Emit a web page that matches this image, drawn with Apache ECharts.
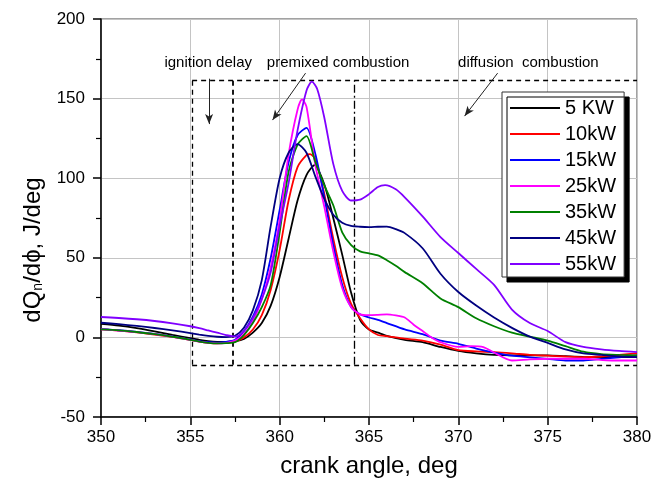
<!DOCTYPE html>
<html><head><meta charset="utf-8">
<script src="https://cdn.jsdelivr.net/npm/echarts@6/dist/echarts.min.js"></script>
<style>html,body{margin:0;padding:0;background:#fff}#c{width:656px;height:493px}</style>
</head><body><div id="c"></div>
<script>
const seriesNames = ['5 KW','10kW','15kW','25kW','35kW','45kW','55kW'];
const seriesColors = ['#000000','#ff0000','#0000ff','#ff00ff','#008000','#000080','#8000ff'];

const s5kW = [[350,8.5],[351,7.4],[352,5.8],[353,3.8],[354,1.6],[355,-0.5],[355.5,-1.5],[356,-2.3],[356.5,-2.8],[357,-2.9],[357.5,-2.4],[358,-1],[358.5,3],[359,9],[359.5,20],[360,38],[360.5,62],[361,86],[361.5,102],[361.95,108.2],[362.5,96],[363,75],[363.5,52],[364,28],[364.5,11],[365,5],[365.5,3],[366,1],[367,-1.5],[368,-3],[369,-6],[370,-8.5],[371,-10],[372,-11],[373,-11.3],[374,-11.3],[375,-11.3],[376,-11.8],[377,-12.2],[378,-12.4],[379,-12.4],[380,-12.4]];
const s10kW = [[350,5],[351,4.3],[352,3.2],[353,1.8],[354,0.3],[355,-1.6],[355.5,-2.6],[356,-3.4],[356.5,-3.8],[357,-3.5],[357.5,-2.6],[358,0],[358.5,5],[359,14],[359.5,30],[360,55],[360.5,86],[361,107],[361.5,114.5],[361.7,115.1],[362,112],[362.5,90],[363,62],[363.5,38],[364,21],[364.5,12],[365,5],[365.5,1.5],[366,0.8],[367,-0.8],[368,-2],[369,-4.5],[370,-8],[371,-8.8],[372,-9.2],[373,-10],[374,-11],[375,-11.5],[376,-12],[377,-12.4],[378,-12],[379,-11],[380,-10]];
const s15kW = [[350,5.2],[351,4.5],[352,3.5],[353,2.2],[354,0.6],[355,-1.3],[355.5,-2.3],[356,-3],[356.5,-3.3],[357,-2.8],[357.5,-1.5],[358,4],[358.5,13],[359,27],[359.5,50],[360,80],[360.5,110],[361,127],[361.5,131.6],[362,115],[362.5,88],[363,58],[363.5,33],[364,19],[364.5,14.5],[365,12.5],[365.5,11],[366,9],[367,5],[368,2],[369,-2],[370,-4],[371,-7],[372,-9.5],[373,-11.5],[374,-12.5],[375,-13.5],[376,-14.5],[377,-14.5],[378,-13.5],[379,-12.5],[380,-11.3]];
const s25kW = [[350,5],[351,4.3],[352,3.3],[353,2],[354,0.4],[355,-1.6],[355.5,-2.7],[356,-3.5],[356.5,-3.8],[357,-3.4],[357.5,-2],[358,2],[358.5,10],[359,24],[359.5,44],[360,74],[360.5,115],[361,143],[361.25,149.5],[361.5,145],[362,108],[362.5,82],[363,54],[363.5,31],[364,19],[364.5,14.5],[365,14],[365.5,14.2],[366,14.5],[366.5,13.8],[367,12.5],[367.5,8],[368,4],[368.5,0],[369,-3],[370,-6],[370.7,-5.5],[371.4,-6.1],[372,-9.5],[373,-14.5],[374,-13.8],[375,-13.4],[377,-13.4],[378.6,-14.5],[380,-14.5]];
const s35kW = [[350,5],[351,4.4],[352,3.4],[353,2],[354,0.4],[355,-1.5],[355.5,-2.6],[356,-3.4],[356.5,-3.8],[357,-3.6],[357.5,-3],[358,1.5],[358.5,9],[359,19],[359.5,33],[360,66],[360.5,104],[361,121],[361.5,126.4],[362,110],[362.5,95.5],[363,83],[363.5,66],[364,58],[364.5,54],[365,52.8],[365.5,51.5],[366,48.5],[366.5,45],[367,41],[368,34],[369,24.5],[370,19],[371,12],[372,7],[373,3],[374,0.5],[375,-2],[376,-5.5],[377,-9],[378,-10.5],[379,-11],[380,-11.3]];
const s45kW = [[350,9.2],[351,8.3],[352,7.2],[353,5.9],[354,4.4],[355,2.7],[355.5,1.8],[356,1],[356.5,0.4],[357,0.2],[357.5,1],[358,6],[358.5,17],[359,36],[359.5,70],[360,100],[360.5,116],[361,121.4],[361.5,116],[362,101],[362.5,87],[363,77],[363.5,72],[364,70],[364.5,69.5],[365,69.3],[365.5,69.5],[366,69.6],[366.5,68],[367,65.5],[368,56],[369,40],[370,28.5],[371,20],[372,12.5],[373,6],[374,0.5],[375,-3.5],[376,-7.5],[377,-10],[378,-11],[379,-12],[380,-12.4]];
const s55kW = [[350,12.8],[351,12.2],[352,11.4],[353,10.3],[354,8.8],[355,7],[355.5,5.8],[356,4.4],[356.5,3],[357,1.5],[357.5,0.5],[358,4],[358.5,12],[359,24],[359.5,41],[360,70],[360.5,97],[361,130],[361.5,155],[361.8,160.6],[362.1,156],[362.5,138],[363,109],[363.5,92],[364,86],[364.5,86.5],[365,90],[365.5,94.5],[365.9,95.6],[366.5,93],[367,88],[368,76],[369,63],[370,53],[371,43],[372,33],[373,17.5],[374,9],[375,4],[376,-3],[377,-6],[378,-7.5],[379,-8.5],[380,-9.2]];
const seriesData = [s5kW, s10kW, s15kW, s25kW, s35kW, s45kW, s55kW];

const xTicks = {min: 350, max: 380, interval: 5};
const yTicks = {min: -50, max: 200, interval: 50};

// annotation regions (data coordinates)
const boxLeft = 355.1, boxRight = 380, boxBottom = -17.2, boxTop = 161.6;
const ignitionEnd = 357.4, premixedEnd = 364.2;
const arrows = [
  [[356.05, 162.5], [356.05, 134]],
  [[361.45, 166], [359.6, 136.5]],
  [[372.2, 166], [370.35, 139]]
];
const annTexts = [
  {t: 'ignition delay', x: 356.0, y: 172.5},
  {t: 'premixed combustion', x: 363.27, y: 172.5},
  {t: 'diffusion  combustion', x: 373.92, y: 172.5}
];

const FONT = "'Liberation Sans', Arial, sans-serif";
const chart = echarts.init(document.getElementById('c'), null, {renderer: 'canvas'});

const dash = {color: '#000', width: 1.3, type: [5, 4]};
const markLines = [
  [{coord: [boxLeft, boxTop]}, {coord: [boxRight, boxTop]}],
  [{coord: [boxLeft, boxBottom]}, {coord: [boxRight, boxBottom]}],
  [{coord: [boxLeft, boxBottom]}, {coord: [boxLeft, boxTop]}],
  [{coord: [ignitionEnd, boxBottom], lineStyle: {width: 1.8}}, {coord: [ignitionEnd, boxTop]}],
  [{coord: [premixedEnd, boxBottom], lineStyle: {type: [8, 3, 2, 3], width: 1.3}}, {coord: [premixedEnd, boxTop]}]
].concat(arrows.map(a => [
  {coord: a[0], lineStyle: {type: 'solid', width: 1, color: '#222'}, symbol: 'none'},
  {coord: a[1], symbol: 'arrow', symbolSize: [6, 10]}
]));

const series = seriesNames.map((n, i) => ({
  name: n, type: 'line', data: seriesData[i], smooth: 0.25, symbol: 'none',
  lineStyle: {color: seriesColors[i], width: 1.8}, itemStyle: {color: seriesColors[i]},
  z: 2 + i
}));
series.push({
  name: 'annotations', type: 'line', data: [], silent: true, z: 20,
  markLine: {silent: true, symbol: ['none', 'none'], label: {show: false}, lineStyle: dash,
    animation: false, data: markLines}
});

chart.setOption({
  animation: false,
  grid: {left: 101, right: 19, top: 19, bottom: 76, show: true, borderColor: '#444', borderWidth: 1},
  legend: {
    data: seriesNames, orient: 'vertical', left: 502, top: 92,
    icon: 'rect', itemWidth: 50, itemHeight: 2, itemGap: 6, padding: [6, 8, 3, 8],
    backgroundColor: '#fff', borderColor: '#333', borderWidth: 1, borderRadius: 0,
    shadowColor: '#000', shadowBlur: 0, shadowOffsetX: 5, shadowOffsetY: 5,
    textStyle: {fontFamily: FONT, fontSize: 20, color: '#000'},
    selectedMode: false
  },
  xAxis: {
    type: 'value', min: xTicks.min, max: xTicks.max, interval: xTicks.interval,
    name: 'crank angle, deg', nameLocation: 'middle', nameGap: 37,
    nameTextStyle: {fontFamily: FONT, fontSize: 24, color: '#000'},
    axisLine: {onZero: false, lineStyle: {color: '#000', width: 1.5}},
    axisTick: {length: 8, lineStyle: {color: '#000', width: 1.5}},
    minorTick: {show: true, splitNumber: 2, length: 5, lineStyle: {color: '#000', width: 1.2}},
    axisLabel: {fontFamily: FONT, fontSize: 17, color: '#000', margin: 12},
    splitLine: {show: true, lineStyle: {color: '#c4c4c4', width: 1}}
  },
  yAxis: {
    type: 'value', min: yTicks.min, max: yTicks.max, interval: yTicks.interval,
    name: 'dQ{sub|n}/d\u03D5, J/deg', nameLocation: 'middle', nameGap: 56,
    nameTextStyle: {fontFamily: FONT, fontSize: 24, color: '#000', padding: [0, 64, 0, 0],
      rich: {sub: {fontFamily: FONT, fontSize: 14, color: '#000', verticalAlign: 'bottom', lineHeight: 14}}},
    axisLine: {onZero: false, lineStyle: {color: '#000', width: 1.5}},
    axisTick: {length: 8, lineStyle: {color: '#000', width: 1.5}},
    minorTick: {show: true, splitNumber: 2, length: 5, lineStyle: {color: '#000', width: 1.2}},
    axisLabel: {fontFamily: FONT, fontSize: 17, color: '#000', margin: 16},
    splitLine: {show: true, lineStyle: {color: '#c4c4c4', width: 1}}
  },
  series: series
});

chart.setOption({
  graphic: annTexts.map(a => {
    const p = chart.convertToPixel({gridIndex: 0}, [a.x, a.y]);
    return {type: 'text', x: p[0], y: p[1], z: 30, silent: true,
      style: {text: a.t, fontFamily: FONT, fontSize: 15, fill: '#000', align: 'center', verticalAlign: 'middle'}};
  })
});
</script></body></html>
